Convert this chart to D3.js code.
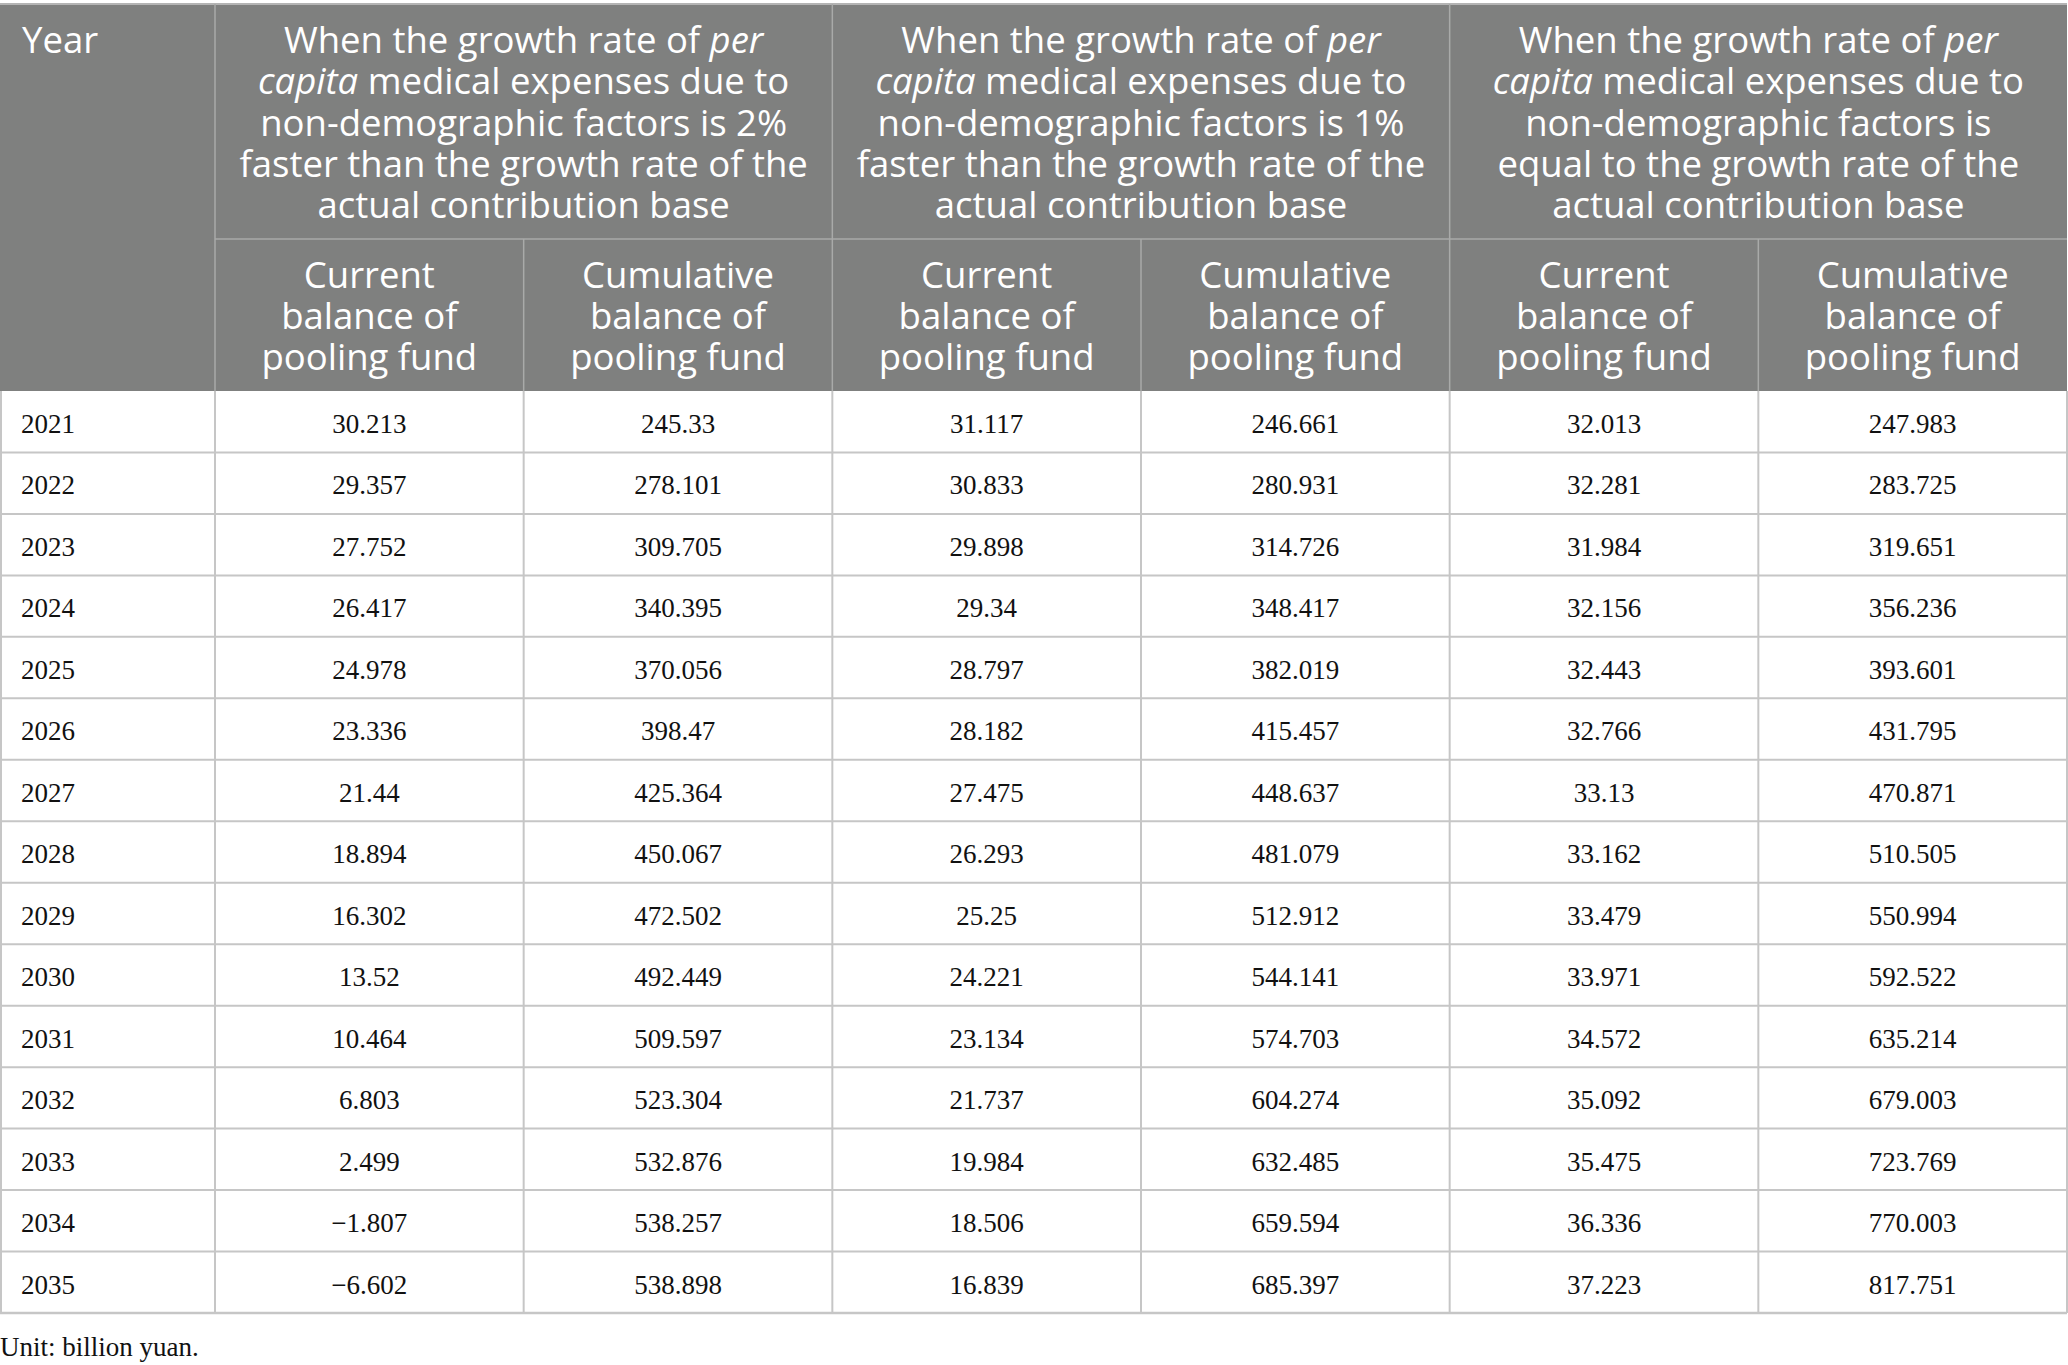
<!DOCTYPE html>
<html>
<head>
<meta charset="utf-8">
<script src="https://cdn.jsdelivr.net/npm/d3@7"></script>
<style>
  html, body { margin: 0; padding: 0; background: #fff; }
  svg { display: block; }
</style>
</head>
<body>
<div id="chart"></div>
<script>
// table values (billion yuan)
var years = [2021, 2022, 2023, 2024, 2025, 2026, 2027, 2028, 2029, 2030, 2031, 2032, 2033, 2034, 2035];

var current2 = ["30.213", "29.357", "27.752", "26.417", "24.978", "23.336", "21.44", "18.894", "16.302", "13.52", "10.464", "6.803", "2.499", "\u22121.807", "\u22126.602"];
var cumulative2 = ["245.33", "278.101", "309.705", "340.395", "370.056", "398.47", "425.364", "450.067", "472.502", "492.449", "509.597", "523.304", "532.876", "538.257", "538.898"];
var current1 = ["31.117", "30.833", "29.898", "29.34", "28.797", "28.182", "27.475", "26.293", "25.25", "24.221", "23.134", "21.737", "19.984", "18.506", "16.839"];
var cumulative1 = ["246.661", "280.931", "314.726", "348.417", "382.019", "415.457", "448.637", "481.079", "512.912", "544.141", "574.703", "604.274", "632.485", "659.594", "685.397"];
var current0 = ["32.013", "32.281", "31.984", "32.156", "32.443", "32.766", "33.13", "33.162", "33.479", "33.971", "34.572", "35.092", "35.475", "36.336", "37.223"];
var cumulative0 = ["247.983", "283.725", "319.651", "356.236", "393.601", "431.795", "470.871", "510.505", "550.994", "592.522", "635.214", "679.003", "723.769", "770.003", "817.751"];

var columns = [current2, cumulative2, current1, cumulative1, current0, cumulative0];

// group header lines, [text, italic]
var groupTitles = [
    [[["When the growth rate of ", false], ["per", true]],
     [["capita", true], [" medical expenses due to", false]],
     [["non-demographic factors is 2%", false]],
     [["faster than the growth rate of the", false]],
     [["actual contribution base", false]]],
    [[["When the growth rate of ", false], ["per", true]],
     [["capita", true], [" medical expenses due to", false]],
     [["non-demographic factors is 1%", false]],
     [["faster than the growth rate of the", false]],
     [["actual contribution base", false]]],
    [[["When the growth rate of ", false], ["per", true]],
     [["capita", true], [" medical expenses due to", false]],
     [["non-demographic factors is", false]],
     [["equal to the growth rate of the", false]],
     [["actual contribution base", false]]]
];

var subTitles = [
    ["Current", "balance of", "pooling fund"],
    ["Cumulative", "balance of", "pooling fund"]
];

var note = "Unit: billion yuan.";

var W = 2068, H = 1365;
var tableTop = 4, head1 = 239, head2 = 391, tableBottom = 1313;
var yearW = 215, tableRight = 2067;

var headFont = "'Open Sans', 'Noto Sans', sans-serif";
var headSize = "36.5px";
var bodyFont = "'Liberation Serif', 'Times New Roman', serif";

var svg = d3.select("#chart").append("svg")
    .attr("width", W)
    .attr("height", H);

// column positions for the 6 data columns
var xScale = d3.scaleLinear()
    .domain([0, columns.length])
    .range([yearW, tableRight]);

var yScale = d3.scaleBand()
    .domain(years)
    .range([head2, tableBottom]);

// header background
svg.append("rect")
    .attr("x", 0)
    .attr("y", tableTop)
    .attr("width", tableRight)
    .attr("height", head2 - tableTop)
    .style("fill", "#7f807f");

// header inner lines
var headLine = "#a9aaa9";
svg.append("line")
    .attr("x1", 0).attr("x2", tableRight)
    .attr("y1", tableTop).attr("y2", tableTop)
    .style("stroke", "#b4b4b4").style("stroke-width", 2);

svg.append("line")
    .attr("x1", yearW).attr("x2", tableRight)
    .attr("y1", head1).attr("y2", head1)
    .style("stroke", headLine).style("stroke-width", 1.5);

svg.selectAll(".vhead1")
    .data([0, 2, 4])
    .enter()
    .append("line")
    .attr("x1", function(d) { return xScale(d); })
    .attr("x2", function(d) { return xScale(d); })
    .attr("y1", tableTop)
    .attr("y2", head2)
    .style("stroke", headLine).style("stroke-width", 1.5);

svg.selectAll(".vhead2")
    .data([1, 3, 5])
    .enter()
    .append("line")
    .attr("x1", function(d) { return xScale(d); })
    .attr("x2", function(d) { return xScale(d); })
    .attr("y1", head1)
    .attr("y2", head2)
    .style("stroke", headLine).style("stroke-width", 1.5);

// header text
svg.append("text")
    .attr("x", 22)
    .attr("y", 53)
    .style("font-family", headFont)
    .style("font-size", headSize)
    .style("fill", "#fff")
    .text("Year");

groupTitles.forEach(function(lines, g) {
    var cx = (xScale(g * 2) + xScale(g * 2 + 2)) / 2;
    var t = svg.append("text")
        .attr("text-anchor", "middle")
        .style("font-family", headFont)
        .style("font-size", headSize)
        .style("fill", "#fff");
    lines.forEach(function(parts, i) {
        parts.forEach(function(p, j) {
            var ts = t.append("tspan")
                .style("font-style", p[1] ? "italic" : "normal")
                .text(p[0]);
            if (j === 0) ts.attr("x", cx).attr("y", 53 + i * 41.3);
        });
    });
});

d3.range(columns.length).forEach(function(c) {
    var cx = (xScale(c) + xScale(c + 1)) / 2;
    var t = svg.append("text")
        .attr("text-anchor", "middle")
        .style("font-family", headFont)
        .style("font-size", headSize)
        .style("fill", "#fff");
    subTitles[c % 2].forEach(function(s, i) {
        t.append("tspan")
            .attr("x", cx)
            .attr("y", 288 + i * 41)
            .text(s);
    });
});

// body grid
var grid = "#c6c6c6";
svg.selectAll(".hrow")
    .data(years.slice(1))
    .enter()
    .append("line")
    .attr("x1", 0).attr("x2", tableRight)
    .attr("y1", function(d) { return yScale(d); })
    .attr("y2", function(d) { return yScale(d); })
    .style("stroke", grid).style("stroke-width", 2);

svg.append("line")
    .attr("x1", 0).attr("x2", tableRight)
    .attr("y1", tableBottom).attr("y2", tableBottom)
    .style("stroke", grid).style("stroke-width", 2.5);

svg.selectAll(".vbody")
    .data(d3.range(columns.length + 1))
    .enter()
    .append("line")
    .attr("x1", function(d) { return xScale(d); })
    .attr("x2", function(d) { return xScale(d); })
    .attr("y1", head2)
    .attr("y2", tableBottom)
    .style("stroke", grid).style("stroke-width", 2);

svg.append("line")
    .attr("x1", 1).attr("x2", 1)
    .attr("y1", head2).attr("y2", tableBottom)
    .style("stroke", grid).style("stroke-width", 2);

// body text
svg.selectAll(".year")
    .data(years)
    .enter()
    .append("text")
    .attr("x", 21)
    .attr("y", function(d) { return yScale(d) + 42; })
    .style("font-family", bodyFont)
    .style("font-size", "27px")
    .style("fill", "#111")
    .text(function(d) { return d; });

columns.forEach(function(col, c) {
    var cx = (xScale(c) + xScale(c + 1)) / 2;
    svg.selectAll(".col" + c)
        .data(col)
        .enter()
        .append("text")
        .attr("text-anchor", "middle")
        .attr("x", cx)
        .attr("y", function(d, i) { return yScale(years[i]) + 42; })
        .style("font-family", bodyFont)
        .style("font-size", "27px")
        .style("fill", "#111")
        .text(function(d) { return d; });
});

svg.append("text")
    .attr("x", 0)
    .attr("y", 1356)
    .style("font-family", bodyFont)
    .style("font-size", "27px")
    .style("fill", "#111")
    .text(note);
</script>
</body>
</html>
